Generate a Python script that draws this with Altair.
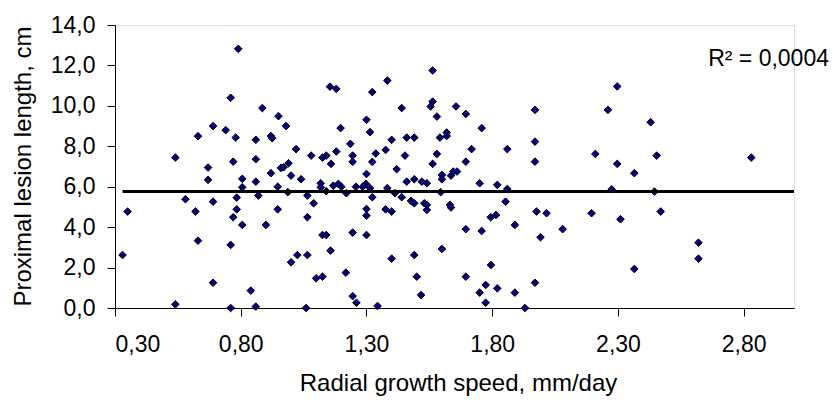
import altair as alt
import pandas as pd

# Radial growth speed (mm/day)
speed = [
    0.76, 0.69, 0.74, 0.63, 0.78, 0.54, 0.77, 0.67, 0.67, 0.58, 0.69, 0.784, 0.35, 0.62, 0.784, 0.77,
    0.63, 0.76, 0.33, 0.69, 0.54, 0.76,
    0.79, 0.886, 0.95, 0.98, 0.86, 0.92, 0.925, 1.02, 1.08, 1.125, 1.14, 0.86, 0.99, 0.97, 0.96, 0.92,
    1.0, 1.04, 0.806, 0.86, 0.806, 0.947, 0.987, 1.118, 1.118, 1.14, 0.87, 1.065, 1.09, 0.947, 0.806,
    0.9, 1.065, 1.125, 1.14, 1.0, 1.025, 1.065, 1.10, 1.125, 0.84, 0.86, 1.06,
    1.155, 1.18, 1.383, 1.323, 1.44, 1.30, 1.197, 1.314, 1.40, 1.46, 1.49, 1.236, 1.376, 1.18, 1.245,
    1.337, 1.453, 1.159, 1.245, 1.323, 1.42, 1.30, 1.46, 1.49, 1.52, 1.168, 1.188, 1.20, 1.22, 1.258,
    1.285, 1.298, 1.314, 1.323, 1.383, 1.413, 1.44, 1.477, 1.49, 1.53, 1.54, 1.54, 1.30, 1.30, 1.376,
    1.40, 1.245, 1.30, 1.157, 1.40, 1.49, 1.218, 1.50, 1.245, 1.26, 1.344, 1.517,
    1.563, 1.563, 1.555, 1.656, 1.58, 1.695, 1.758, 1.619, 1.592, 1.619, 1.718, 1.86, 1.58, 1.695,
    1.563, 1.60, 1.60, 1.636, 1.645, 1.66, 1.54, 1.75, 1.82, 1.86, 1.595, 1.632, 1.636, 1.853, 1.794,
    1.815, 1.89, 1.695, 1.758, 1.60, 1.795, 1.695, 1.774, 1.75, 1.82, 1.89, 1.774,
    2.297, 1.97, 2.26, 1.97, 2.21, 1.97, 2.297, 2.275, 1.976, 2.016, 2.195, 2.31, 1.992, 2.08, 1.97, 1.93,
    2.43, 2.454, 2.83, 2.365, 2.445, 2.47, 2.62, 2.62, 2.365,
]

# Proximal lesion length (cm)
lesion = [
    10.4, 9.0, 8.8, 8.5, 8.43, 7.44, 7.24, 6.95, 6.34, 5.38, 5.26, 5.46, 4.77, 4.77, 4.88, 4.49,
    3.33, 3.12, 2.62, 1.25, 0.18, 0.0,
    12.82, 9.89, 9.49, 9.0, 8.32, 8.51, 8.4, 7.86, 7.54, 7.44, 7.54, 7.36, 7.16, 6.96, 6.93, 6.67,
    6.55, 6.37, 6.39, 6.25, 5.97, 6.0, 5.73, 6.17, 5.97, 5.78, 5.56, 5.56, 5.18, 4.88, 4.11,
    4.11, 4.49, 3.61, 3.61, 2.26, 2.62, 2.62, 1.47, 1.55, 0.86, 0.07, 0.0,
    10.95, 10.84, 11.25, 10.68, 9.89, 9.31, 8.9, 8.7, 8.32, 8.43, 8.43, 8.12, 7.82, 7.74, 7.54,
    7.64, 7.54, 7.13, 7.23, 7.23, 6.87, 6.63, 6.25, 6.37, 6.25, 6.05, 6.14, 6.0, 5.68, 6.0,
    6.0, 6.14, 5.93, 5.48, 5.93, 5.68, 5.48, 5.30, 5.18, 5.18, 5.1, 4.85, 4.9, 4.57, 4.88,
    4.77, 3.73, 3.61, 2.84, 2.44, 2.62, 1.75, 1.55, 0.59, 0.26, 0.1, 0.64,
    11.75, 10.21, 9.97, 9.97, 9.47, 9.6, 8.9, 8.68, 8.43, 8.51, 7.86, 7.86, 7.62, 7.24,
    7.13, 6.58, 6.37, 6.55, 6.75, 6.75, 6.17, 6.17, 6.09, 5.89, 5.73, 5.1, 4.97, 5.26, 4.49,
    4.6, 4.11, 3.9, 3.81, 2.92, 2.13, 1.55, 1.14, 0.76, 0.97, 0.76, 0.26,
    10.96, 9.8, 9.8, 8.23, 7.62, 7.24, 7.13, 5.87, 4.77, 4.69, 4.69, 4.39, 3.5, 3.9, 1.25, 0.0,
    9.19, 7.54, 7.44, 6.67, 5.76, 4.77, 3.23, 2.44, 1.93,
]

# Linear trendline end points
trend_x = [0.33, 3.0]
trend_y = [5.76, 5.76]

x_ticks = [0.3, 0.8, 1.3, 1.8, 2.3, 2.8]
y_ticks = [0, 2, 4, 6, 8, 10, 12, 14]
r2_label = ["R² = 0,0004"]

FONT = "Liberation Sans"

pts = pd.DataFrame({"speed": speed, "lesion": lesion})
trend = pd.DataFrame({"speed": trend_x, "lesion": trend_y})
note = pd.DataFrame({"t": r2_label})

xscale = alt.Scale(domain=[0.3, 3.0], nice=False, zero=False)
yscale = alt.Scale(domain=[0, 14], nice=False)

xaxis = alt.Axis(
    values=x_ticks,
    labelExpr="replace(format(datum.value, '.2f'), '.', ',')",
    title="Radial growth speed, mm/day",
    grid=False, tickSize=8, labelPadding=17,
    labelFontSize=23, titleFontSize=24, labelFont=FONT, titleFont=FONT,
    titleFontWeight="normal", labelColor="black", titleColor="black",
    domainColor="black", tickColor="black",
    titleBaseline="alphabetic", titleY=82, titleX=343,
)
yaxis = alt.Axis(
    values=y_ticks,
    labelExpr="replace(format(datum.value, '.1f'), '.', ',')",
    title="Proximal lesion length, cm",
    grid=False, tickSize=8, labelPadding=12,
    labelFontSize=23, titleFontSize=24, labelFont=FONT, titleFont=FONT,
    titleFontWeight="normal", labelColor="black", titleColor="black",
    domainColor="black", tickColor="black",
    titleAngle=-90, titleBaseline="alphabetic", titleX=-85, titleY=141,
)

points = alt.Chart(pts).mark_point(
    shape="diamond", filled=True, size=58, fill="#000080", stroke="black",
    strokeWidth=1, opacity=1,
).encode(
    x=alt.X("speed:Q", scale=xscale, axis=xaxis),
    y=alt.Y("lesion:Q", scale=yscale, axis=yaxis),
)

line = alt.Chart(trend).mark_line(color="black", strokeWidth=3).encode(
    x=alt.X("speed:Q", scale=xscale),
    y=alt.Y("lesion:Q", scale=yscale),
)

text = alt.Chart(note).mark_text(
    align="right", baseline="alphabetic", fontSize=23, font=FONT, color="black",
).encode(
    x=alt.value(714), y=alt.value(41), text="t:N",
)

chart = alt.layer(points, line, text).properties(
    width=679, height=283,
    autosize=alt.AutoSizeParams(type="none"),
    padding={"left": 107, "top": 17, "right": 36, "bottom": 92},
).configure_view(stroke=None).configure(background="white")

chart.save("out.html", embed_options={"renderer": "svg", "actions": False})
